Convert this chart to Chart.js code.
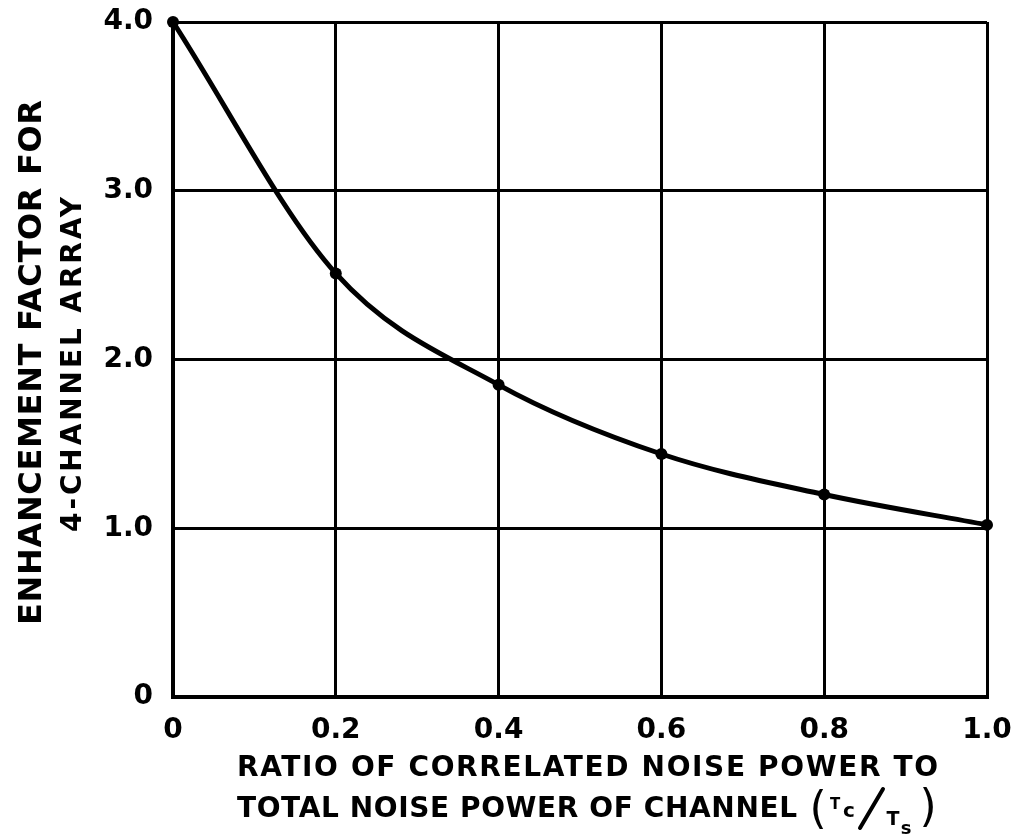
<!DOCTYPE html>
<html>
<head>
<meta charset="utf-8">
<script src="https://cdn.jsdelivr.net/npm/chart.js@4.4.1/dist/chart.umd.min.js"></script>
<style>
    html, body { margin: 0; padding: 0; background: #fff; }
    #wrap { width: 1011px; height: 835px; }
</style>
</head>
<body>
<div id="wrap"><canvas id="enhancementChart"></canvas></div>
<script>
// values
const ratios = [0, 0.2, 0.4, 0.6, 0.8, 1.0];
const enhancement = [4.0, 2.51, 1.85, 1.44, 1.20, 1.02];
const xTicks = [0, 0.2, 0.4, 0.6, 0.8, 1.0];
const yTicks = [0, 1, 2, 3, 4];
const yTitle = ['ENHANCEMENT FACTOR FOR', '4-CHANNEL ARRAY'];
const xTitle = ['RATIO OF CORRELATED NOISE POWER TO', 'TOTAL NOISE POWER OF CHANNEL'];

const ink = '#000';
const FONT = '"DejaVu Sans", "Liberation Sans", sans-serif';

// draw text with letter spacing stretched to a target width
function drawSpaced(c, text, x, y, width, font, align) {
    c.font = font;
    c.letterSpacing = '0px';
    const w = c.measureText(text).width;
    let sp = (width - w) / (text.length - 1);
    if (sp < 0) sp = 0;
    c.letterSpacing = sp + 'px';
    c.textAlign = 'left';
    c.textBaseline = 'middle';
    let start = x;
    if (align === 'center') start = x - width / 2;
    if (sp === 0) c.fillText(text, start, y, width);
    else c.fillText(text, start, y);
    c.letterSpacing = '0px';
}

const titlesPlugin = {
    id: 'titles',
    afterDraw(chart) {
        const c = chart.ctx;
        const area = chart.chartArea;
        const midY = (area.top + area.bottom) / 2;
        c.save();
        c.fillStyle = ink;

        // y axis title, two rotated lines
        c.save();
        c.translate(33, midY + 3);
        c.rotate(-Math.PI / 2);
        drawSpaced(c, yTitle[0], 0, 0, 525, 'bold 32px ' + FONT, 'center');
        c.restore();
        c.save();
        c.translate(74, midY + 5);
        c.rotate(-Math.PI / 2);
        drawSpaced(c, yTitle[1], 0, 0, 335, 'bold 28px ' + FONT, 'center');
        c.restore();

        // x axis title
        drawSpaced(c, xTitle[0], 237, 769, 701, 'bold 28px ' + FONT, 'left');
        drawSpaced(c, xTitle[1], 237, 810, 560, 'bold 28px ' + FONT, 'left');

        // (Tc/Ts)
        c.textAlign = 'center';
        c.textBaseline = 'alphabetic';
        c.font = '44px ' + FONT;
        c.fillText('(', 818, 823);
        c.fillText(')', 928, 821);
        c.font = 'bold 15px ' + FONT;
        c.fillText('T', 835, 809);
        c.font = 'bold 20px ' + FONT;
        c.fillText('c', 849, 817);
        c.font = 'bold 19px ' + FONT;
        c.fillText('T', 893, 825);
        c.font = 'bold 18px ' + FONT;
        c.fillText('s', 906, 834);
        c.lineWidth = 4;
        c.lineCap = 'round';
        c.strokeStyle = ink;
        c.beginPath();
        c.moveTo(860, 828);
        c.lineTo(883, 789);
        c.stroke();
        c.restore();
    }
};

const ctx = document.getElementById('enhancementChart').getContext('2d');

window.enhancementChart = new Chart(ctx, {
    type: 'line',
    data: {
        datasets: [{
            data: ratios.map((r, i) => ({ x: r, y: enhancement[i] })),
            borderColor: ink,
            borderWidth: 5,
            cubicInterpolationMode: 'monotone',
            fill: false,
            pointRadius: 6,
            pointBackgroundColor: ink,
            pointBorderColor: ink,
            pointBorderWidth: 0,
            clip: false
        }]
    },
    options: {
        responsive: true,
        maintainAspectRatio: false,
        animation: false,
        layout: {
            padding: { top: 22, right: 24, left: 0, bottom: 0 }
        },
        scales: {
            x: {
                type: 'linear',
                min: 0,
                max: 1,
                afterBuildTicks: s => { s.ticks = xTicks.map(v => ({ value: v })); },
                afterFit: s => { s.height = 138; s.paddingLeft = 0; s.paddingRight = 0; },
                grid: {
                    color: ink,
                    lineWidth: 3,
                    drawTicks: false
                },
                border: { color: ink, width: 4 },
                ticks: {
                    color: ink,
                    padding: 17,
                    maxRotation: 0,
                    font: { family: FONT, size: 28, weight: 'bold' },
                    callback: v => v === 0 ? '0' : v.toFixed(1)
                }
            },
            y: {
                min: 0,
                max: 4,
                afterBuildTicks: s => { s.ticks = yTicks.map(v => ({ value: v })); },
                afterFit: s => { s.width = 173; s.paddingTop = 0; s.paddingBottom = 0; },
                grid: {
                    color: ink,
                    lineWidth: 3,
                    drawTicks: false
                },
                border: { color: ink, width: 4 },
                ticks: {
                    color: ink,
                    padding: 20,
                    font: { family: FONT, size: 28, weight: 'bold' },
                    callback: v => v === 0 ? '0' : v.toFixed(1)
                }
            }
        },
        plugins: {
            legend: { display: false },
            tooltip: { enabled: false }
        }
    },
    plugins: [titlesPlugin]
});
</script>
</body>
</html>
